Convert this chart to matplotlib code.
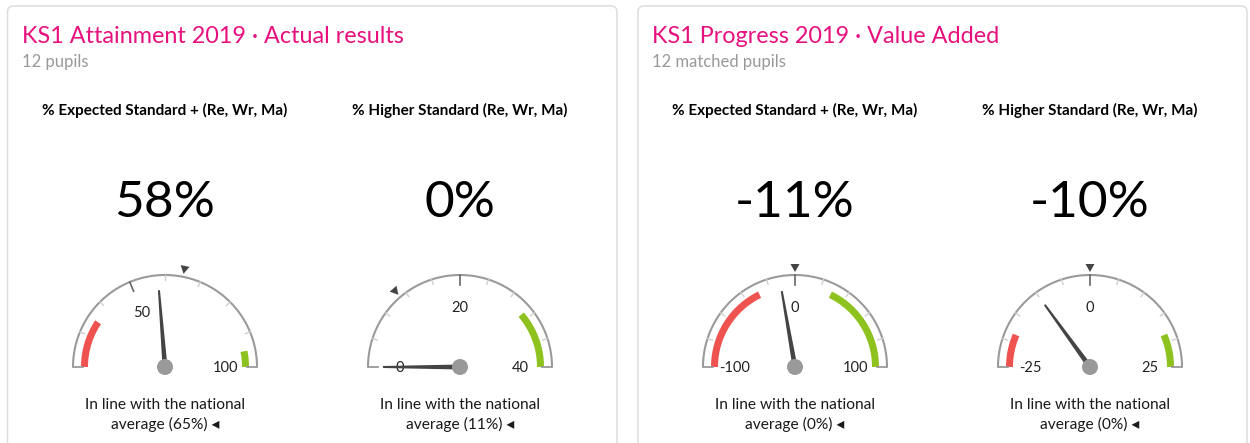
import numpy as np
import matplotlib
matplotlib.use('Agg')
import matplotlib.pyplot as plt
from matplotlib.patches import Polygon, Circle, FancyBboxPatch

# Panel texts
panel_titles = ['KS1 Attainment 2019 · Actual results', 'KS1 Progress 2019 · Value Added']
panel_counts = ['12 pupils', '12 matched pupils']

# Gauge data
gauge_titles = ['% Expected Standard + (Re, Wr, Ma)', '% Higher Standard (Re, Wr, Ma)',
                '% Expected Standard + (Re, Wr, Ma)', '% Higher Standard (Re, Wr, Ma)']
values = [58, 0, -11, -10]
national = [65, 11, 0, 0]
axis_min = [20, 0, -100, -25]
axis_max = [100, 40, 100, 25]
minor_step = [10, 4, 20, 5]
major_ticks = [[50], [20], [0], [0]]
tick_labels = [[50, 100], [0, 20, 40], [-100, 0, 100], [-25, 0, 25]]
red_bands = [(20, 35), None, (-100, -29), (-25, -18.5)]
green_bands = [(95, 100), (31, 40), (29, 100), (18.5, 25)]

plt.rcParams['font.family'] = ['Lato', 'DejaVu Sans']

PINK = '#e6117f'
RED = '#ef5350'
GREEN = '#8dc21f'

fig = plt.figure(figsize=(12.5, 4.43), dpi=100)
ax = fig.add_axes([0, 0, 1, 1])
ax.set_xlim(0, 1250)
ax.set_ylim(443, 0)
ax.axis('off')

# panel boxes
for x0, x1 in [(7.5, 617), (638, 1247)]:
    ax.add_patch(FancyBboxPatch((x0, 6), x1 - x0, 460, boxstyle='round,pad=0,rounding_size=6',
                                fc='white', ec='#dddddd', lw=1.1))

for i, x0 in enumerate([22, 652]):
    ax.text(x0, 36, panel_titles[i], color=PINK, fontsize=16.8, va='center', ha='left')
    ax.text(x0, 62, panel_counts[i], color='#999999', fontsize=12, va='center', ha='left')

centers_x = [165, 460, 795, 1090]
cy = 367
R = 92


def ang(i, v):
    # value -> angle (degrees), min at 180, max at 0
    return 180 - 180 * (v - axis_min[i]) / (axis_max[i] - axis_min[i])


def pt(cx, r, a):
    a = np.radians(a)
    return cx + r * np.cos(a), cy - r * np.sin(a)


def band(cx, a0, a1, r_in, r_out, color):
    t = np.linspace(a0, a1, 60)
    xo, yo = pt(cx, r_out, t)
    xi, yi = pt(cx, r_in, t[::-1])
    ax.add_patch(Polygon(np.column_stack([np.r_[xo, xi], np.r_[yo, yi]]), closed=True,
                         fc=color, ec='none'))


for i, cx in enumerate(centers_x):
    ax.text(cx, 110, gauge_titles[i], fontsize=11, fontweight='bold', ha='center', va='center',
            color='black')
    ax.text(cx, 203, '%d%%' % values[i], fontsize=37, fontweight='normal', ha='center',
            va='center', color='black')

    # pane outline
    t = np.linspace(0, 180, 200)
    xs, ys = pt(cx, R, t)
    ax.plot(xs, ys, color='#9a9a9a', lw=1.5, solid_capstyle='butt')
    for a in [0, 180]:
        xa, ya = pt(cx, np.array([82, R]), a)
        ax.plot(xa, ya, color='#9a9a9a', lw=1.3)

    # colour bands
    if red_bands[i]:
        band(cx, ang(i, red_bands[i][0]), ang(i, red_bands[i][1]), 77, 84, RED)
    if green_bands[i]:
        band(cx, ang(i, green_bands[i][0]), ang(i, green_bands[i][1]), 77, 84, GREEN)

    # ticks
    for v in np.arange(axis_min[i] + minor_step[i], axis_max[i], minor_step[i]):
        a = ang(i, v)
        if v in major_ticks[i]:
            xa, ya = pt(cx, np.array([82, R]), a)
            ax.plot(xa, ya, color='#666666', lw=1.2)
        else:
            xa, ya = pt(cx, np.array([87, R]), a)
            ax.plot(xa, ya, color='#d0d0d0', lw=1.0)

    # tick labels
    for v in tick_labels[i]:
        lx, ly = pt(cx, 60, ang(i, v))
        ax.text(lx, ly + 1, str(v), fontsize=10.5, ha='center', va='center', color='#222222')

    # national average marker
    a = np.radians(ang(i, national[i]))
    tip = pt(cx, 95, np.degrees(a))
    bx, by = pt(cx, 103, np.degrees(a))
    px, py = -np.sin(a) * 4.5, -np.cos(a) * 4.5
    ax.add_patch(Polygon([tip, (bx + px, by + py), (bx - px, by - py)], closed=True,
                         fc='#444444', ec='none'))

    # needle
    a = np.radians(ang(i, values[i]))
    ux, uy = np.cos(a), -np.sin(a)
    nx, ny = -uy, ux
    needle = [(cx + nx * 2.5, cy + ny * 2.5), (cx + ux * 77 + nx * 1, cy + uy * 77 + ny * 1),
              (cx + ux * 77 - nx * 1, cy + uy * 77 - ny * 1), (cx - nx * 2.5, cy - ny * 2.5)]
    ax.add_patch(Polygon(needle, closed=True, fc='#444444', ec='none', zorder=4))
    ax.add_patch(Circle((cx, cy), 8, fc='#999999', ec='none', zorder=5))

    ax.text(cx, 405, 'In line with the national', fontsize=11.2, ha='center', va='center',
            color='#1a1a1a')
    ax.text(cx, 424, 'average (%d%%) \u25c2' % national[i], fontsize=11.2, ha='center',
            va='center', color='#1a1a1a')

fig.savefig('out.png', dpi=100)
